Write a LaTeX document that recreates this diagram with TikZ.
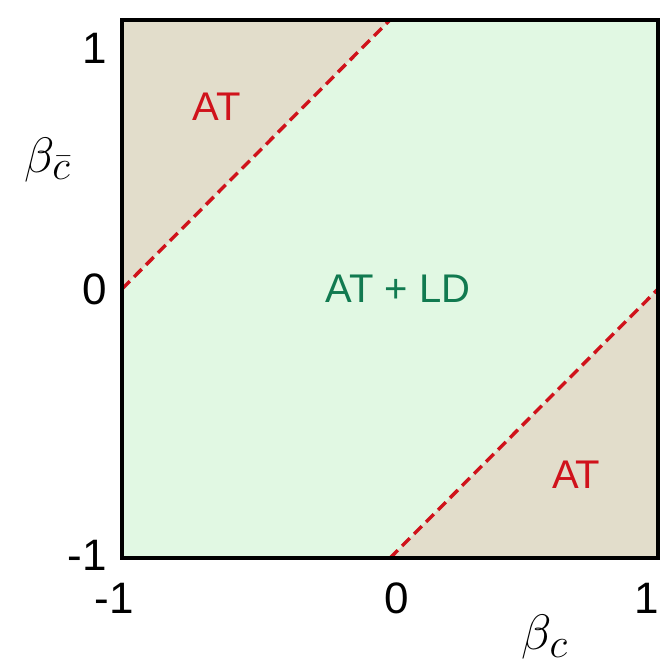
\documentclass[tikz,border=0pt]{standalone}
\usepackage{fontspec}
\setmainfont{Liberation Sans}
\usepackage{tikz}
\usetikzlibrary{positioning}
\definecolor{atbeige}{RGB}{226,221,203}
\definecolor{ldgreen}{RGB}{225,248,227}
\definecolor{atred}{RGB}{208,18,27}
\definecolor{ldtext}{RGB}{17,122,80}
\begin{document}
\begin{tikzpicture}[
    x=134pt, y=134.5pt,
    ticklbl/.style={font=\fontsize{22}{26}\selectfont, inner sep=0pt},
    axislbl/.style={font=\fontsize{30}{34}\selectfont, inner sep=0pt},
    region/.style={font=\fontsize{20}{24}\selectfont, text=atred, inner sep=0pt},
    border/.style={draw=black, line width=2pt},
    phaseline/.style={draw=atred, line width=1.7pt, dash pattern=on 5.5pt off 3pt}
]
\useasboundingbox (-1.455,-1.390) rectangle (1.007,1.074);

% Regions
\fill[ldgreen] (-1,-1) rectangle (1,1);
\fill[atbeige] (-1,0) -- (0,1) -- (-1,1) -- cycle;
\fill[atbeige] (0,-1) -- (1,0) -- (1,-1) -- cycle;

% Boundaries
\coordinate (ul) at (-1,0);
\coordinate (ut) at (0,1);
\coordinate (lb) at (0,-1);
\coordinate (lr) at (1,0);
\draw[phaseline] (ul) -- (ut);
\draw[phaseline] (lb) -- (lr);

% Frame
\draw[border] (-1,-1) rectangle (1,1);

% Labels
\node[region] (at1) at (-0.646,0.677) {AT};
\node[region] (at2) at (0.694,-0.691) {AT};
\node[region, text=ldtext] (atld) at (0.03,0) {AT + LD};

% Ticks
\node[ticklbl] (y1) at (-1.10,0.895) {1};
\node[ticklbl] (y0) at (-1.10,0) {0};
\node[ticklbl] (ym) at (-1.13,-0.99) {-1};
\node[ticklbl] (xm) at (-1.03,-1.149) {-1};
\node[ticklbl] (x0) at (0.026,-1.149) {0};
\node[ticklbl, anchor=east] (x1) at (1.005,-1.149) {1};

% Axis labels
\node[axislbl] (ylbl) at (-1.276,0.48) {$\beta_{\bar{c}}$};
\node[axislbl] (xlbl) at (0.578,-1.294) {$\beta_c$};
\end{tikzpicture}
\end{document}
